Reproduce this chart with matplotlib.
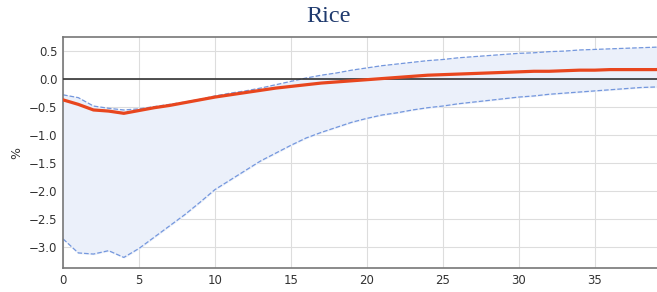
import numpy as np
import matplotlib.pyplot as plt

# impulse response of rice price, % deviation
horizon = np.arange(0, 41)
mean = [-0.37, -0.45, -0.55, -0.57, -0.61, -0.56, -0.51, -0.47, -0.42, -0.37,
        -0.32, -0.28, -0.24, -0.20, -0.16, -0.13, -0.10, -0.07, -0.05, -0.03,
        -0.01, 0.01, 0.03, 0.05, 0.07, 0.08, 0.09, 0.10, 0.11, 0.12,
        0.13, 0.14, 0.14, 0.15, 0.16, 0.16, 0.17, 0.17, 0.17, 0.17, 0.18]
upper = [-0.28, -0.33, -0.48, -0.52, -0.55, -0.53, -0.49, -0.45, -0.41, -0.36,
         -0.30, -0.25, -0.21, -0.16, -0.10, -0.04, 0.02, 0.07, 0.11, 0.16,
         0.20, 0.24, 0.27, 0.30, 0.33, 0.35, 0.38, 0.40, 0.42, 0.44,
         0.46, 0.47, 0.49, 0.50, 0.52, 0.53, 0.54, 0.55, 0.56, 0.57, 0.57]
lower = [-2.85, -3.10, -3.12, -3.06, -3.18, -3.02, -2.82, -2.62, -2.42, -2.20,
         -1.97, -1.80, -1.63, -1.46, -1.32, -1.18, -1.05, -0.95, -0.86, -0.77,
         -0.70, -0.64, -0.60, -0.55, -0.51, -0.48, -0.44, -0.41, -0.38, -0.35,
         -0.32, -0.30, -0.27, -0.25, -0.23, -0.21, -0.19, -0.17, -0.15, -0.14, -0.13]

fig = plt.figure(figsize=(6.57, 2.92), dpi=100)
ax = fig.add_axes([0.096, 0.082, 0.904, 0.791])

ax.fill_between(horizon, lower, upper, color='#ebf0fa', zorder=1)
ax.plot(horizon, upper, '--', color='#7497dd', lw=0.9, zorder=2)
ax.plot(horizon, lower, '--', color='#7497dd', lw=0.9, zorder=2)
ax.axhline(0, color='#333333', lw=1.2, zorder=3)
ax.plot(horizon, mean, color='#e8461e', lw=2.3, zorder=4)

ax.set_xlim(0, 39.1)
ax.set_ylim(-3.37, 0.75)
ax.set_xticks(range(0, 40, 5))
ax.set_yticks(np.arange(-3.0, 0.51, 0.5))
ax.grid(True, color='#dddddd', lw=0.8, zorder=0)
ax.set_axisbelow(True)
ax.tick_params(labelsize=8.5, length=0, colors='#333333', pad=4)
ax.set_ylabel('%', fontsize=9, color='#333333', labelpad=4)
for s in ['left', 'top', 'bottom']:
    ax.spines[s].set_color('#777777')
    ax.spines[s].set_linewidth(1.2)
ax.spines['right'].set_visible(False)

fig.text(0.50, 0.945, 'Rice', ha='center', va='center', fontsize=17.5,
         family='Liberation Serif', color='#1f3a6e')

fig.savefig('out.png', dpi=100)
